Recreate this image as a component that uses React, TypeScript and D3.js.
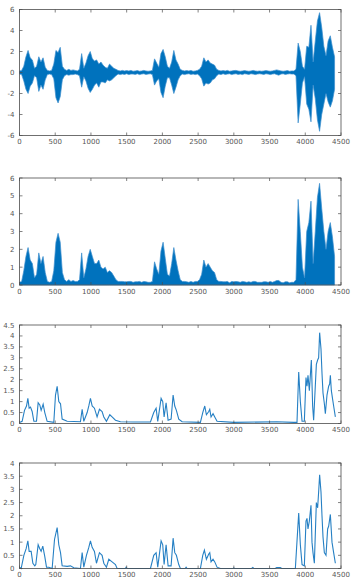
import React from "react";
import * as d3 from "d3";

// x axis (samples)
const xTicks = [0, 500, 1000, 1500, 2000, 2500, 3000, 3500, 4000, 4500];
const waveStep = 30; // samples per envelope bin

// panel 1: raw waveform, max / min per bin
const waveHi = [
  0.15, 0.2, 0.6, 1.5, 2.1, 1.4, 1.2, 0.4, 0.6, 1.5,
  1.0, 1.4, 0.5, 0.2, 0.15, 0.2, 0.8, 2.1, 1.9, 2.4,
  0.6, 0.3, 0.2, 0.3, 0.2, 0.25, 0.2, 0.15, 0.3, 1.8,
  0.4, 0.9, 1.6, 2.0, 1.3, 1.1, 1.2, 0.8, 1.0, 0.7,
  0.5, 0.4, 0.8, 0.6, 0.4, 0.3, 0.2, 0.15, 0.2, 0.15,
  0.18, 0.15, 0.2, 0.12, 0.15, 0.18, 0.12, 0.15, 0.2, 0.15,
  0.12, 0.15, 0.2, 1.3, 0.9, 0.5, 1.8, 2.2, 1.5, 0.6,
  0.4, 1.0, 2.1, 1.2, 0.8, 0.3, 0.2, 0.15, 0.18, 0.15,
  0.2, 0.12, 0.15, 0.2, 0.3, 0.6, 1.4, 1.0, 1.2, 0.9,
  0.8, 0.7, 0.3, 0.2, 0.15, 0.18, 0.15, 0.2, 0.12, 0.15,
  0.18, 0.2, 0.15, 0.12, 0.15, 0.18, 0.15, 0.12, 0.15, 0.2,
  0.15, 0.12, 0.15, 0.12, 0.15, 0.18, 0.15, 0.12, 0.15, 0.2,
  0.25, 0.2, 0.15, 0.12, 0.15, 0.18, 0.12, 0.15, 0.15, 0.3,
  2.8, 2.0, 0.6, 0.3, 2.5, 2.4, 4.5, 1.0, 3.0, 4.9,
  5.7, 4.3, 2.5, 1.6, 3.0, 3.5, 2.4, 1.5,
];
const waveLo = [
  -0.15, -0.2, -0.8, -1.6, -2.0, -1.3, -1.0, -0.3, -0.5, -1.8,
  -1.2, -1.6, -0.7, -0.2, -0.15, -0.2, -0.6, -2.4, -2.9, -2.3,
  -0.7, -0.3, -0.2, -0.25, -0.2, -0.2, -0.15, -0.2, -0.3, -1.4,
  -0.4, -0.8, -1.5, -1.9, -1.6, -1.2, -1.0, -1.4, -0.9, -0.9,
  -1.0, -0.7, -0.8, -0.7, -0.5, -0.3, -0.15, -0.2, -0.15, -0.18,
  -0.12, -0.2, -0.15, -0.15, -0.18, -0.12, -0.2, -0.15, -0.12, -0.18,
  -0.15, -0.12, -0.2, -1.2, -0.8, -0.6, -1.9, -2.4, -1.3, -0.5,
  -0.5, -1.2, -2.0, -1.4, -0.7, -0.3, -0.15, -0.2, -0.15, -0.12,
  -0.18, -0.15, -0.2, -0.15, -0.3, -0.6, -1.3, -1.0, -1.1, -1.0,
  -0.7, -0.6, -0.3, -0.15, -0.2, -0.12, -0.18, -0.15, -0.12, -0.2,
  -0.15, -0.12, -0.18, -0.15, -0.2, -0.12, -0.15, -0.18, -0.12, -0.15,
  -0.2, -0.15, -0.12, -0.15, -0.18, -0.12, -0.15, -0.2, -0.15, -0.12,
  -0.2, -0.25, -0.15, -0.12, -0.18, -0.15, -0.12, -0.15, -0.15, -0.3,
  -4.8, -3.0, -1.0, -0.4, -3.0, -3.5, -4.7, -1.2, -2.5, -4.5,
  -5.6, -4.0, -3.0, -2.0, -2.8, -3.3, -2.7, -1.6,
];

// panel 3: smoothed envelope
const smoothAX = [
  0, 37, 70, 98, 117, 135, 154, 177, 201, 238, 261, 284, 303, 331, 354, 387,
  480, 504, 527, 550, 574, 597, 667, 853, 877, 900, 947, 970, 993, 1017, 1049,
  1086, 1119, 1156, 1180, 1217, 1264, 1296, 1343, 1413, 1599, 1833, 1879, 1912,
  1935, 1982, 2005, 2024, 2052, 2080, 2122, 2150, 2173, 2196, 2229, 2276, 2532,
  2565, 2593, 2616, 2649, 2663, 2681, 2709, 2733, 2765, 2998, 3600, 3838, 3884,
  3908, 3931, 3955, 3987, 4010, 4024, 4038, 4057, 4071, 4085, 4103, 4117, 4155,
  4173, 4187, 4201, 4220, 4234, 4248, 4267, 4281, 4304, 4327, 4341, 4351, 4365,
  4383, 4397, 4421,
];
const smoothAY = [
  0.05, 0.1, 0.6, 0.8, 1.15, 0.7, 0.75, 0.55, 0.1, 0.1, 0.95, 0.85, 0.6, 0.88, 0.5, 0.1,
  0.05, 1.3, 1.7, 1.0, 0.9, 0.2, 0.1, 0.08, 0.65, 0.1, 0.5, 0.8, 1.15, 0.8, 0.7,
  0.3, 0.65, 0.55, 0.3, 0.1, 0.4, 0.3, 0.15, 0.08, 0.07, 0.07, 0.5, 0.7,
  0.1, 1.15, 1.0, 0.3, 0.95, 0.15, 0.2, 1.3, 0.8, 0.6, 0.2, 0.08, 0.05,
  0.5, 0.8, 0.4, 0.55, 0.65, 0.3, 0.45, 0.3, 0.1, 0.05, 0.08, 0.05, 0.05,
  2.35, 1.0, 0.1, 0.1, 2.1, 1.7, 2.2, 1.5, 2.2, 2.9, 0.8, 0.15, 2.7,
  2.9, 3.0, 4.15, 3.4, 2.3, 1.4, 0.9, 0.45, 1.3, 1.7, 1.8, 2.2, 1.5,
  1.1, 0.8, 0.3,
];

// panel 4: smoothed envelope, longer window
const smoothBX = [
  0, 23, 61, 93, 117, 135, 163, 187, 214, 228, 261, 284, 303, 326, 354, 378,
  410, 457, 490, 527, 550, 574, 597, 667, 713, 760, 853, 877, 900, 937, 970,
  993, 1017, 1049, 1077, 1119, 1156, 1180, 1217, 1250, 1296, 1343, 1366, 1483,
  1492, 1506, 1833, 1879, 1912, 1935, 1982, 2005, 2024, 2052, 2080, 2122, 2150,
  2173, 2196, 2229, 2252, 2320, 2332, 2345, 2532, 2565, 2588, 2616, 2649, 2663,
  2681, 2709, 2733, 2765, 2812, 2990, 3000, 3010, 3250, 3265, 3280, 3580, 3600,
  3650, 3670, 3861, 3908, 3931, 3955, 3987, 4010, 4024, 4038, 4057, 4080, 4094,
  4108, 4127, 4155, 4173, 4187, 4201, 4220, 4234, 4248, 4267, 4290, 4313, 4327,
  4351, 4374, 4397, 4421,
];
const smoothBY = [
  0.05, 0, 0.5, 0.75, 1.05, 0.65, 0.65, 0.2, 0.1, 0.15, 0.9, 0.75, 0.65, 0.85, 0.45, 0.05,
  0.05, 0, 1.1, 1.55, 0.9, 0.6, 0.1, 0.08, 0.1, 0.03, 0, 0.6, 0.05, 0.5, 0.8,
  1.05, 0.8, 0.65, 0.2, 0.6, 0.5, 0.2, 0.05, 0.35, 0.25, 0.15, 0, 0,
  0.05, 0, 0, 0.5, 0.6, 0.05, 1.05, 0.9, 0.15, 0.9, 0.1, 0.1, 1.15,
  0.6, 0.5, 0.15, 0, 0, 0.05, 0, 0, 0.5, 0.7, 0.35, 0.55, 0.6,
  0.25, 0.35, 0.25, 0.05, 0, 0, 0.02, 0, 0, 0.04, 0, 0, 0.04,
  0.04, 0, 0, 2.1, 0.9, 0.15, 0.1, 1.8, 1.9, 1.5, 1.8, 2.4, 1.0,
  0.6, 0.2, 2.5, 2.3, 2.9, 3.55, 2.9, 2.0, 1.2, 0.6, 0.5, 1.5, 1.6,
  2.05, 1.0, 0.6, 0.2,
];

const blue = "#0072BD";
const edgeBlue = "#3d8fcf";
const lineBlue = "#2680c4";
const axisColor = "#4d4d4d";
const labelColor = "#555";
const x = d3.scaleLinear().domain([0, 4500]).range([19.5, 341]);

type PanelProps = {
  top: number;
  bottom: number;
  yDomain: [number, number];
  yTicks: number[];
  children: (y: d3.ScaleLinear<number, number>) => React.ReactNode;
};

function Panel({ top, bottom, yDomain, yTicks, children }: PanelProps) {
  const y = d3.scaleLinear().domain(yDomain).range([bottom, top]);
  const [x0, x1] = x.range();
  const tk = 3;
  return (
    <g>
      {children(y)}
      <rect x={x0} y={top} width={x1 - x0} height={bottom - top} fill="none" stroke={axisColor} strokeWidth={0.8} />
      {xTicks.map((t) => (
        <g key={"x" + t}>
          <line x1={x(t)} x2={x(t)} y1={bottom} y2={bottom - tk} stroke={axisColor} strokeWidth={0.7} />
          <line x1={x(t)} x2={x(t)} y1={top} y2={top + tk} stroke={axisColor} strokeWidth={0.7} />
          <text x={x(t)} y={bottom + 8.5} textAnchor="middle">{t}</text>
        </g>
      ))}
      {yTicks.map((t) => (
        <g key={"y" + t}>
          <line x1={x0} x2={x0 + tk} y1={y(t)} y2={y(t)} stroke={axisColor} strokeWidth={0.7} />
          <line x1={x1} x2={x1 - tk} y1={y(t)} y2={y(t)} stroke={axisColor} strokeWidth={0.7} />
          <text x={14.5} y={y(t) + 2.5} textAnchor="end">{String(t)}</text>
        </g>
      ))}
    </g>
  );
}

export default function App() {
  const bins = waveHi.map((h, i) => ({ s: i * waveStep, hi: h, lo: waveLo[i] }));
  const smoothA = smoothAX.map((s, i) => ({ s, v: smoothAY[i] }));
  const smoothB = smoothBX.map((s, i) => ({ s, v: smoothBY[i] }));

  return (
    <svg width={360} height={585} style={{ position: "absolute", left: 0, top: 0, background: "#fff" }}
      fontFamily="DejaVu Sans" fontSize={7} fill={labelColor}>
      <Panel top={9.5} bottom={135.5} yDomain={[-6, 6]} yTicks={[-6, -4, -2, 0, 2, 4, 6]}>
        {(y) => {
          const area = d3.area<typeof bins[0]>().x((d) => x(d.s)).y0((d) => y(d.lo)).y1((d) => y(d.hi));
          return <path d={area(bins) || ""} fill={blue} stroke={edgeBlue} strokeWidth={0.7} />;
        }}
      </Panel>
      <Panel top={178} bottom={285} yDomain={[0, 6]} yTicks={[0, 1, 2, 3, 4, 5, 6]}>
        {(y) => {
          const area = d3.area<typeof bins[0]>().x((d) => x(d.s)).y0(y(0)).y1((d) => y(Math.max(d.hi, -d.lo)));
          return <path d={area(bins) || ""} fill={blue} stroke={edgeBlue} strokeWidth={0.7} />;
        }}
      </Panel>
      <Panel top={325} bottom={423.5} yDomain={[0, 4.5]} yTicks={[0, 0.5, 1, 1.5, 2, 2.5, 3, 3.5, 4, 4.5]}>
        {(y) => {
          const line = d3.line<typeof smoothA[0]>().x((d) => x(d.s)).y((d) => y(d.v));
          return <path d={line(smoothA) || ""} fill="none" stroke={lineBlue} strokeWidth={1.1} />;
        }}
      </Panel>
      <Panel top={463} bottom={568.5} yDomain={[0, 4]} yTicks={[0, 0.5, 1, 1.5, 2, 2.5, 3, 3.5, 4]}>
        {(y) => {
          const line = d3.line<typeof smoothB[0]>().x((d) => x(d.s)).y((d) => y(d.v));
          return <path d={line(smoothB) || ""} fill="none" stroke={lineBlue} strokeWidth={1.1} />;
        }}
      </Panel>
    </svg>
  );
}
